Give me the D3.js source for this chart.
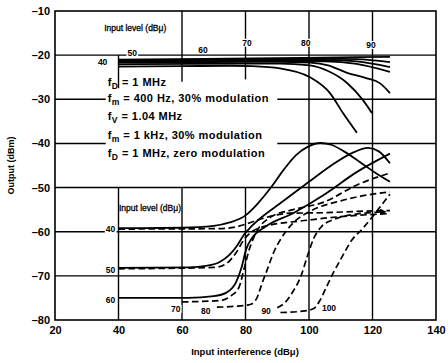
<!DOCTYPE html>
<html><head><meta charset="utf-8">
<script src="https://cdn.jsdelivr.net/npm/d3@7"></script>
<style>
body{margin:0;background:#fff}
text{font-family:"Liberation Sans",Arial,sans-serif;fill:#000;font-weight:bold}
</style>
</head><body>
<svg id="c" width="448" height="363"></svg>
<script>
// ---------- data ----------
const xTicks = [20, 40, 60, 80, 100, 120, 140];
const yTicks = [-10, -20, -30, -40, -50, -60, -70, -80];

// upper family: f_m = 400 Hz, 30% modulation (solid)
const top1 = [[40,-22.6],[60,-22.5],[75,-22.4],[82,-22.5],[90.9,-23],[100.3,-25],[106.6,-28.6],[110.7,-33.1],[115.1,-37.6]];
const top2 = [[40,-22.1],[80,-21.9],[90.9,-21.9],[100.3,-22.3],[106,-23.6],[112,-26.3],[117,-30.2],[119.8,-33.1]];
const top3 = [[40,-21.7],[90,-21.5],[100.3,-21.7],[106,-22.3],[112,-24],[118,-25.2],[122.4,-26.4],[125.5,-28.6]];
const top4 = [[40,-21.5],[90,-21.3],[105,-21.4],[115,-22],[125.5,-23.8]];
const top5 = [[40,-21.3],[90,-21.1],[105,-21.1],[115,-21.4],[125.5,-22.7]];
const top6 = [[40,-21.1],[90,-20.9],[105,-20.8],[115,-20.9],[125.5,-21.6]];
const top7 = [[40,-21.0],[90,-20.7],[110,-20.5],[125.5,-20.4]];

// lower family: f_m = 1 kHz, 30% modulation (solid)
const low40 = [[40,-59.2],[60,-59.1],[70,-58.7],[75,-57.9],[80,-56.3],[84,-53.5],[88,-50],[92,-46],[96,-42.6],[100,-40.6],[103.5,-39.9],[107,-40.3],[111,-41.8],[116,-44.2],[121,-46.7],[125.5,-48.7]];
const low50 = [[40,-68.2],[62,-68.1],[68,-67.7],[72,-66.8],[75,-65.2],[77.5,-63],[79.5,-60.7],[82,-58.7],[92,-53],[100,-48.7],[107,-45],[113.5,-42.2],[118.6,-41],[122,-41.8],[125.5,-44.5]];
const low60 = [[40,-75],[62,-75],[70,-74.6],[74,-73.8],[77,-71.5],[78.8,-68],[80.2,-64],[82,-61.5],[86,-59],[95,-55.8],[105,-51.5],[115,-46.5],[125.5,-42.3]];

// lower family: f_D = 1 MHz, zero modulation (dashed)
const zero40 = [[40,-59.4],[72,-59.3],[77,-58.9],[80,-58.3],[83.6,-57.4],[94.3,-55.8],[104.7,-55.7],[115.1,-55.4],[125.5,-55.2]];
const zero50 = [[40,-68.4],[70,-68.1],[74,-67.2],[77,-64.8],[79.5,-61.8],[82,-60],[85,-59],[99.4,-57.4],[115.1,-56.3],[125.5,-55.9]];
const zero70 = [[60,-75.9],[72,-75.6],[75.5,-74.5],[78,-72.5],[79.7,-68],[81.2,-64],[83.5,-60],[87.7,-56.8],[95,-55],[104.7,-53.3],[115.1,-49.4],[125.5,-46.7]];
const zero80 = [[71,-77.1],[78.3,-76.8],[81.5,-76.5],[83.6,-75],[85.3,-71.5],[86.8,-68.7],[88.8,-64.8],[90.9,-61.9],[95,-58],[100,-55.5],[110,-53],[120,-51.5],[125.5,-51]];
const zero90 = [[90,-77.2],[92.5,-76],[95,-73.5],[97.5,-70],[99.5,-65.5],[101.5,-61.5],[104,-58.8],[108,-57.2],[115,-56],[124,-55.5]];
const zero100 = [[91,-78.3],[98,-78],[101.5,-77.4],[103.5,-75.5],[105.5,-72.5],[107.6,-69.4],[110.4,-65.7],[113.5,-61.9],[117,-59.2],[120,-56.6],[123,-53.8],[125.5,-51.5]];

const solidCurves = [top1, top2, top3, top4, top5, top6, top7, low40, low50, low60];
const dashedCurves = [zero40, zero50, zero70, zero80, zero90, zero100];

// level labels [text, x, y]
const topLevelLabels = [["40",35,-21.6],["50",44.3,-19.6],["60",66.6,-18.8],["70",80.5,-17.2],["80",99,-17.2],["90",119.5,-17.7]];
const lowLevelLabels = [["40",37.5,-59.4],["50",37.5,-68.6],["60",37.5,-75.4],["70",58,-77.5],["80",67.5,-78],["90",86.5,-78],["100",106.3,-77.4]];

const notes = [
  [["f",""],["D","sub"],[" = 1 MHz",""]],
  [["f",""],["m","sub"],[" = 400 Hz, 30% modulation",""]],
  [["f",""],["V","sub"],[" = 1.04 MHz",""]],
  [["f",""],["m","sub"],[" = 1 kHz, 30% modulation",""]],
  [["f",""],["D","sub"],[" = 1 MHz, zero modulation",""]]
];
const noteY = [-27.6, -31.4, -35.3, -39.6, -43.7];

// visible grid pieces [value, from, to]
const vGrid = [[40,-27.5,-20],[40,-80,-50],[60,-26,-10],[60,-80,-50],[80,-25.5,-10],[80,-80,-50],[100,-80,-10],[120,-80,-10]];
const hGrid = [[-20,20,140],[-30,20,36],[-30,90,140],[-40,20,36],[-40,90,140],[-50,20,140],[-60,20,140],[-70,20,140]];

// ---------- drawing ----------
const svg = d3.select("#c");
const x = d3.scaleLinear().domain([20,140]).range([55,436]);
const y = d3.scaleLinear().domain([-80,-10]).range([320,11]);

const g = svg.append("g");
g.selectAll("line.v").data(vGrid).join("line")
  .attr("x1",d=>x(d[0])).attr("x2",d=>x(d[0])).attr("y1",d=>y(d[1])).attr("y2",d=>y(d[2]))
  .attr("stroke","#000").attr("stroke-width",1.4);
g.selectAll("line.h").data(hGrid).join("line")
  .attr("y1",d=>y(d[0])).attr("y2",d=>y(d[0])).attr("x1",d=>x(d[1])).attr("x2",d=>x(d[2]))
  .attr("stroke","#000").attr("stroke-width",1.4);
g.append("rect").attr("x",x(20)).attr("y",y(-10)).attr("width",x(140)-x(20)).attr("height",y(-80)-y(-10))
  .attr("fill","none").attr("stroke","#000").attr("stroke-width",1.6);

// axes (tick labels only, as in the figure)
const xAxis = d3.axisBottom(x).tickValues(xTicks).tickSize(0).tickPadding(6);
const ax = svg.append("g").attr("transform",`translate(0,${y(-80)})`).call(xAxis);
ax.select(".domain").remove();
ax.selectAll("text").style("font-size","11px").style("font-family","Liberation Sans, Arial").style("font-weight","bold");
const yAxis = d3.axisLeft(y).tickValues(yTicks).tickSize(0).tickPadding(5).tickFormat(d=>"\u2013"+Math.abs(d));
const ay = svg.append("g").attr("transform",`translate(${x(20)},0)`).call(yAxis);
ay.select(".domain").remove();
ay.selectAll("text").style("font-size","11px").style("font-family","Liberation Sans, Arial").style("font-weight","bold");

const line = d3.line().x(d=>x(d[0])).y(d=>y(d[1])).curve(d3.curveMonotoneX);

svg.append("defs").append("marker").attr("id","arr").attr("viewBox","0 0 10 10")
  .attr("refX",8).attr("refY",5).attr("markerWidth",4).attr("markerHeight",4).attr("orient","auto")
  .append("path").attr("d","M0,0L10,5L0,10z").attr("fill","#000");

svg.selectAll("path.dash").data(dashedCurves).join("path").attr("class","dash")
  .attr("d",line).attr("fill","none").attr("stroke","#000").attr("stroke-width",1.7)
  .attr("stroke-dasharray","6.5,3.5")
  .attr("marker-end",d=>d===zero90?"url(#arr)":null);
svg.selectAll("path.solid").data(solidCurves).join("path").attr("class","solid")
  .attr("d",line).attr("fill","none").attr("stroke","#000").attr("stroke-width",1.8);

// level labels
function levelLabels(arr){
  const lg = svg.append("g");
  arr.forEach(([t,xv,yv])=>{
    const tx = lg.append("text").attr("x",x(xv)).attr("y",y(yv)).attr("dy","0.35em")
      .attr("text-anchor","middle").style("font-size","8.5px").text(t);
    const bb = tx.node().getBBox();
    lg.insert("rect","text").attr("x",bb.x-1).attr("y",bb.y+1).attr("width",bb.width+2).attr("height",bb.height-2).attr("fill","#fff");
  });
}
levelLabels(topLevelLabels);
levelLabels(lowLevelLabels);

svg.append("text").attr("x",x(35.5)).attr("y",y(-14.6)).style("font-size","8.5px").style("font-weight","normal").style("stroke","#000").style("stroke-width","0.3").text("Input level (dB\u03bc)");
svg.append("text").attr("x",x(49.9)).attr("y",y(-55.2)).attr("text-anchor","middle").style("font-size","8.5px").style("font-weight","normal").style("stroke","#000").style("stroke-width","0.3").text("Input level (dB\u03bc)");

// notes
notes.forEach((parts,i)=>{
  const t = svg.append("text").attr("x",x(36.6)).attr("y",y(noteY[i])).style("font-size","11px").style("letter-spacing","0.45px");
  parts.forEach(([s,k])=>{
    if(k==="sub") t.append("tspan").attr("dy","3").style("font-size","8.5px").text(s);
    else t.append("tspan").attr("dy", t.selectAll("tspan").size()>0 ? "-3":"0").text(s);
  });
});

// axis titles
svg.append("text").attr("transform",`translate(14,${(y(-10)+y(-80))/2}) rotate(-90)`).attr("text-anchor","middle")
  .style("font-size","9px").text("Output (dBm)");
svg.append("text").attr("x",245).attr("y",355).attr("text-anchor","middle").style("font-size","9.5px").text("Input interference (dB\u03bc)");
</script>
</body></html>
